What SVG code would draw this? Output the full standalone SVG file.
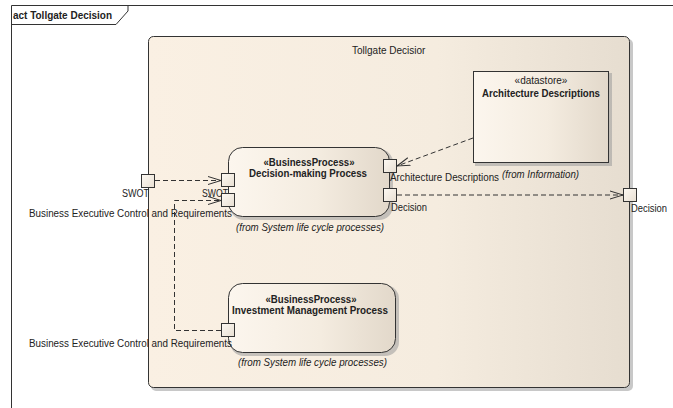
<svg xmlns="http://www.w3.org/2000/svg" width="673" height="408" viewBox="0 0 673 408">
<defs>
<linearGradient id="gCont" x1="0" y1="0" x2="1" y2="0">
<stop offset="0" stop-color="#FAF0E3"/>
<stop offset="0.6" stop-color="#F5ECDF"/>
<stop offset="1" stop-color="#E6DDD0"/>
</linearGradient>
<linearGradient id="gNode" x1="0" y1="0" x2="1" y2="0">
<stop offset="0" stop-color="#FCF6EE"/>
<stop offset="0.55" stop-color="#F4ECE0"/>
<stop offset="1" stop-color="#E2D8CA"/>
</linearGradient>
<linearGradient id="gPort" x1="0" y1="0" x2="1" y2="1">
<stop offset="0" stop-color="#FDF9F3"/>
<stop offset="1" stop-color="#E8DFD2"/>
</linearGradient>
<marker id="arr" viewBox="0 0 14 10" refX="13" refY="5" markerWidth="14" markerHeight="10" markerUnits="userSpaceOnUse" orient="auto">
<path d="M0,1 L13,5 L0,9" fill="none" stroke="#333" stroke-width="1"/>
</marker>
</defs>
<style>
text{font-family:"Liberation Sans",Arial,sans-serif;font-size:10px;fill:#222}
.b{font-weight:bold}
.i{font-style:italic}
.m{text-anchor:middle}
.e{text-anchor:end}
.shadow{fill:#9a9a9a;opacity:0.55}
.edge{fill:none;stroke:#333;stroke-width:1;stroke-dasharray:5,3}
.port{fill:url(#gPort);stroke:#333;stroke-width:1}
</style>

<g id="frame">
<path d="M11.5,420 V5.5 H680" fill="none" stroke="#333" stroke-width="1"/>
<path d="M11.5,24.5 H116 L128,11 V5.5" fill="none" stroke="#333" stroke-width="1"/>
<text class="b" x="13" y="19" textLength="99" lengthAdjust="spacingAndGlyphs">act Tollgate Decision</text>
</g>

<g id="tollgate">
<rect class="shadow" x="151" y="39" width="482" height="352" rx="5"/>
<rect x="148.5" y="36.5" width="481" height="351" rx="5" fill="url(#gCont)" stroke="#333" stroke-width="1"/>
<text x="352" y="53.5">Tollgate Decisior</text>
</g>

<g id="datastore">
<rect class="shadow" x="475" y="73" width="137" height="93"/>
<rect x="473.5" y="71.5" width="135" height="91" fill="url(#gNode)" stroke="#333" stroke-width="1"/>
<text class="m" x="541" y="84">«datastore»</text>
<text class="b" x="482" y="97" textLength="118" lengthAdjust="spacingAndGlyphs">Architecture Descriptions</text>
<text class="i" x="502" y="177.5" textLength="77" lengthAdjust="spacingAndGlyphs">(from Information)</text>
</g>

<g id="decisionProcess">
<rect class="shadow" x="230" y="149" width="163" height="71" rx="14"/>
<rect x="228.5" y="147.5" width="161" height="69" rx="14" fill="url(#gNode)" stroke="#333" stroke-width="1"/>
<text class="b m" x="309" y="166" textLength="91" lengthAdjust="spacingAndGlyphs">«BusinessProcess»</text>
<text class="b m" x="308" y="177" textLength="118" lengthAdjust="spacingAndGlyphs">Decision-making Process</text>
<text class="i" x="236" y="231" textLength="148" lengthAdjust="spacingAndGlyphs">(from System life cycle processes)</text>
</g>

<g id="investmentProcess">
<rect class="shadow" x="230" y="285" width="169" height="71" rx="14"/>
<rect x="228.5" y="283.5" width="167" height="69" rx="14" fill="url(#gNode)" stroke="#333" stroke-width="1"/>
<text class="b m" x="311" y="303" textLength="91" lengthAdjust="spacingAndGlyphs">«BusinessProcess»</text>
<text class="b" x="232" y="314" textLength="156" lengthAdjust="spacingAndGlyphs">Investment Management Process</text>
<text class="i" x="238" y="366" textLength="149" lengthAdjust="spacingAndGlyphs">(from System life cycle processes)</text>
</g>

<g id="ports">
<rect class="port" x="141.5" y="174.5" width="13" height="13"/>
<text x="122" y="197" textLength="27" lengthAdjust="spacingAndGlyphs">SWOT</text>
<rect class="port" x="221.5" y="173.5" width="13" height="13"/>
<text x="202" y="197" textLength="26" lengthAdjust="spacingAndGlyphs">SWOT</text>
<rect class="port" x="221.5" y="193.5" width="13" height="13"/>
<text x="29" y="217" textLength="203" lengthAdjust="spacingAndGlyphs">Business Executive Control and Requirements</text>
<rect class="port" x="383.5" y="159.5" width="13" height="13"/>
<text x="390" y="181" textLength="109" lengthAdjust="spacingAndGlyphs">Architecture Descriptions</text>
<rect class="port" x="383.5" y="188.5" width="13" height="13"/>
<text x="391" y="211" textLength="36" lengthAdjust="spacingAndGlyphs">Decision</text>
<rect class="port" x="623.5" y="188.5" width="13" height="13"/>
<text x="631" y="211.5" textLength="36" lengthAdjust="spacingAndGlyphs">Decision</text>
<rect class="port" x="221.5" y="323.5" width="13" height="13"/>
<text x="29" y="347" textLength="203" lengthAdjust="spacingAndGlyphs">Business Executive Control and Requirements</text>
</g>

<g id="connectors">
<path class="edge" d="M155,180.5 H221" marker-end="url(#arr)"/>
<path class="edge" d="M221,330.5 H174.5 V200.5 H221" marker-end="url(#arr)"/>
<path class="edge" d="M473,138 L397,166" marker-end="url(#arr)"/>
<path class="edge" d="M397,195 H623" marker-end="url(#arr)"/>
</g>
</svg>
